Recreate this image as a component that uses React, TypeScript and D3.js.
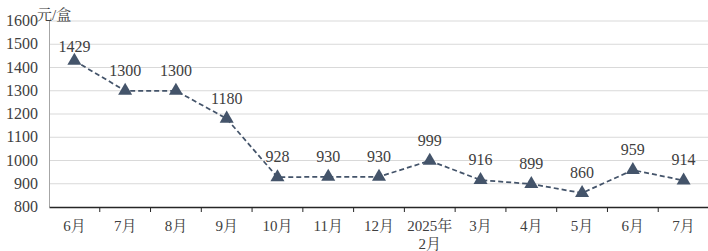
import React, { useRef, useEffect } from 'react';
import * as d3 from 'd3';

const categories = ['6月', '7月', '8月', '9月', '10月', '11月', '12月', '2025年\n2月', '3月', '4月', '5月', '6月', '7月'];
const prices = [1429, 1300, 1300, 1180, 928, 930, 930, 999, 916, 899, 860, 959, 914];
const yTicks = [800, 900, 1000, 1100, 1200, 1300, 1400, 1500, 1600];
const unitLabel = '元/盒';

const App = () => {
    const ref = useRef<SVGSVGElement>(null);
    const width = 708;
    const height = 251;
    const margin = { left: 49, right: -1, top: 21, bottom: 44 };
    const font = '"Times New Roman", Tinos, "DejaVu Serif", "Noto Serif CJK SC", "Noto Sans CJK SC", serif';
    const textColor = '#404040';

    useEffect(() => {
        if (!ref.current) return;
        const svg = d3.select(ref.current);
        svg.selectAll('*').remove();

        const x = d3.scaleBand()
            .domain(categories.map((c, i) => String(i)))
            .range([margin.left, width - margin.right]);
        const y = d3.scaleLinear()
            .domain([800, 1600])
            .range([height - margin.bottom, margin.top]);

        // grid
        svg.append('g')
            .selectAll('line')
            .data(yTicks.slice(1))
            .enter()
            .append('line')
            .attr('x1', margin.left)
            .attr('x2', width - margin.right)
            .attr('y1', d => y(d))
            .attr('y2', d => y(d))
            .attr('stroke', '#d9d9d9')
            .attr('stroke-width', 1);

        // y axis line
        svg.append('line')
            .attr('x1', margin.left + 0.5)
            .attr('x2', margin.left + 0.5)
            .attr('y1', y(1600))
            .attr('y2', y(800))
            .attr('stroke', '#a6a6a6');

        // y labels
        svg.append('g')
            .selectAll('text')
            .data(yTicks)
            .enter()
            .append('text')
            .attr('x', margin.left - 11)
            .attr('y', d => y(d) + 5)
            .attr('text-anchor', 'end')
            .style('font-family', font)
            .style('font-size', '16px')
            .style('fill', textColor)
            .text(d => d);

        svg.append('text')
            .attr('x', 37)
            .attr('y', 20)
            .style('font-family', font)
            .style('font-size', '15px')
            .style('fill', textColor)
            .text(unitLabel);

        // x axis
        const xAxis = d3.axisBottom(x).tickSize(0).tickFormat(() => '');
        const gx = svg.append('g')
            .attr('transform', `translate(0, ${y(800)})`)
            .call(xAxis);
        gx.select('.domain').attr('stroke', '#262626').attr('stroke-width', 1.5);

        const bounds = categories.map((c, i) => x(String(i)) as number);
        svg.append('g')
            .selectAll('line')
            .data(bounds.slice(1))
            .enter()
            .append('line')
            .attr('x1', d => d)
            .attr('x2', d => d)
            .attr('y1', y(800))
            .attr('y2', y(800) + 5)
            .attr('stroke', '#262626');

        const cx = (i: number) => (x(String(i)) as number) + x.bandwidth() / 2;

        const labels = svg.append('g');
        categories.forEach((c, i) => {
            const lines = c.split('\n');
            lines.forEach((l, j) => {
                labels.append('text')
                    .attr('x', cx(i))
                    .attr('y', y(800) + 24 + j * 18)
                    .attr('text-anchor', 'middle')
                    .style('font-family', font)
                    .style('font-size', '15px')
                    .style('fill', textColor)
                    .text(l);
            });
        });

        // line
        const line = d3.line<number>()
            .x((d, i) => cx(i))
            .y(d => y(d));
        svg.append('path')
            .datum(prices)
            .attr('d', line)
            .attr('fill', 'none')
            .attr('stroke', '#44546a')
            .attr('stroke-width', 1.75)
            .attr('stroke-dasharray', '5,3');

        const tri = d3.symbol().type(d3.symbolTriangle).size(85);
        svg.append('g')
            .selectAll('path')
            .data(prices)
            .enter()
            .append('path')
            .attr('d', tri)
            .attr('transform', (d, i) => `translate(${cx(i)}, ${y(d)})`)
            .attr('fill', '#44546a');

        // first label sits lower in the original
        svg.append('g')
            .selectAll('text')
            .data(prices)
            .enter()
            .append('text')
            .attr('x', (d, i) => cx(i))
            .attr('y', (d, i) => y(d) - (i === 0 ? 9 : 15))
            .attr('text-anchor', 'middle')
            .style('font-family', font)
            .style('font-size', '16px')
            .style('fill', textColor)
            .text(d => d);
    }, []);

    return (
        <svg ref={ref} width={width} height={height} style={{ position: 'absolute', left: 0, top: 0 }} />
    );
};

export default App;
